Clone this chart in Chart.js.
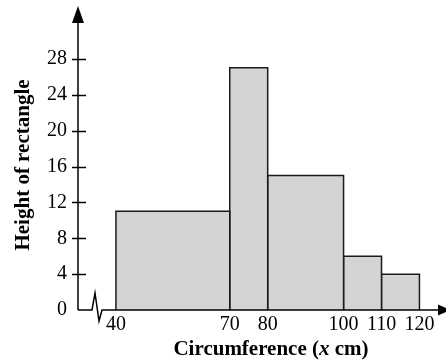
<!DOCTYPE html>
<html>
<head>
<meta charset="utf-8">
<script src="https://cdn.jsdelivr.net/npm/chart.js@4.4.1/dist/chart.umd.min.js"></script>
<style>
  body { margin: 0; background: #fff; }
  #wrap { width: 446px; height: 362px; }
</style>
</head>
<body>
<div id="wrap"><canvas id="myChart"></canvas></div>
<script>
// class intervals and rectangle heights
const classStarts = [40, 70, 80, 100, 110];
const classEnds = [70, 80, 100, 110, 120];
const heights = [11, 27, 15, 6, 4];

// tick labels
const xTickValues = [40, 70, 80, 100, 110, 120];
const yTickValues = [0, 4, 8, 12, 16, 20, 24, 28];

const serif = "'Liberation Serif', 'Times New Roman', serif";

// one closed outline per class, filled down to zero
const datasets = heights.map((h, i) => ({
  data: [
    { x: classStarts[i], y: 0 },
    { x: classStarts[i], y: h },
    { x: classEnds[i], y: h },
    { x: classEnds[i], y: 0 }
  ],
  borderColor: "#1a1a1a",
  borderWidth: 1.5,
  backgroundColor: "#d4d4d6",
  fill: "origin",
  pointRadius: 0,
  tension: 0
}));

// axis lines, arrows, the break mark and both titles
const axesPlugin = {
  id: "axes",
  afterDatasetsDraw(chart) {
    const { ctx, chartArea, scales: { y } } = chart;
    const x0 = chartArea.left;
    const y0 = y.getPixelForValue(0);
    ctx.save();
    ctx.strokeStyle = "#000";
    ctx.fillStyle = "#000";
    ctx.lineWidth = 1.5;

    // y axis + arrow
    ctx.beginPath();
    ctx.moveTo(x0, y0);
    ctx.lineTo(x0, 20);
    ctx.stroke();
    ctx.beginPath();
    ctx.moveTo(x0, 6);
    ctx.lineTo(x0 - 6, 23);
    ctx.lineTo(x0 + 6, 23);
    ctx.closePath();
    ctx.fill();

    // y tick marks cross the axis
    yTickValues.forEach(v => {
      if (v === 0) return;
      const py = Math.round(y.getPixelForValue(v)) + 0.5;
      ctx.beginPath();
      ctx.moveTo(x0 - 6, py);
      ctx.lineTo(x0 + 8, py);
      ctx.stroke();
    });

    // x axis with zigzag break near the origin
    ctx.beginPath();
    ctx.moveTo(x0, y0);
    ctx.lineTo(x0 + 14, y0);
    ctx.lineTo(x0 + 17, y0 - 17);
    ctx.lineTo(x0 + 21, y0 + 11);
    ctx.lineTo(x0 + 24, y0);
    ctx.lineTo(chartArea.right - 6, y0);
    ctx.stroke();
    ctx.beginPath();
    ctx.moveTo(chartArea.right + 5, y0);
    ctx.lineTo(chartArea.right - 8, y0 - 5.5);
    ctx.lineTo(chartArea.right - 8, y0 + 5.5);
    ctx.closePath();
    ctx.fill();

    // y title
    ctx.font = "bold 21px " + serif;
    ctx.textAlign = "center";
    ctx.textBaseline = "middle";
    ctx.save();
    ctx.translate(24, 165);
    ctx.rotate(-Math.PI / 2);
    ctx.fillText("Height of rectangle", 0, 0);
    ctx.restore();

    // x title, with the x in italics
    const parts = [
      ["Circumference (", "bold 21px " + serif],
      ["x", "italic bold 21px " + serif],
      [" cm)", "bold 21px " + serif]
    ];
    let total = 0;
    parts.forEach(p => { ctx.font = p[1]; total += ctx.measureText(p[0]).width; });
    let tx = 271 - total / 2;
    ctx.textAlign = "left";
    parts.forEach(p => {
      ctx.font = p[1];
      ctx.fillText(p[0], tx, 350);
      tx += ctx.measureText(p[0]).width;
    });
    ctx.restore();
  }
};

const ctx = document.getElementById("myChart").getContext("2d");

const chart = new Chart(ctx, {
  type: "line",
  data: { datasets: datasets },
  options: {
    responsive: true,
    maintainAspectRatio: false,
    animation: false,
    layout: { padding: { top: 8, right: 0, left: 0, bottom: 0 } },
    plugins: {
      legend: { display: false },
      tooltip: { enabled: false }
    },
    scales: {
      x: {
        type: "linear",
        min: 30,
        max: 127,
        grid: { display: false, drawTicks: false },
        border: { display: false },
        afterBuildTicks: s => { s.ticks = xTickValues.map(v => ({ value: v })); },
        afterFit: s => { s.height = 52; },
        ticks: {
          padding: 3,
          color: "#000",
          autoSkip: false,
          maxRotation: 0,
          font: { family: serif, size: 20 }
        }
      },
      y: {
        min: 0,
        max: 32,
        grid: { display: false, drawTicks: false },
        border: { display: false },
        afterBuildTicks: s => { s.ticks = yTickValues.map(v => ({ value: v })); },
        afterFit: s => { s.width = 78; },
        ticks: {
          padding: 11,
          color: "#000",
          font: { family: serif, size: 20 }
        }
      }
    }
  },
  plugins: [axesPlugin]
});
</script>
</body>
</html>
